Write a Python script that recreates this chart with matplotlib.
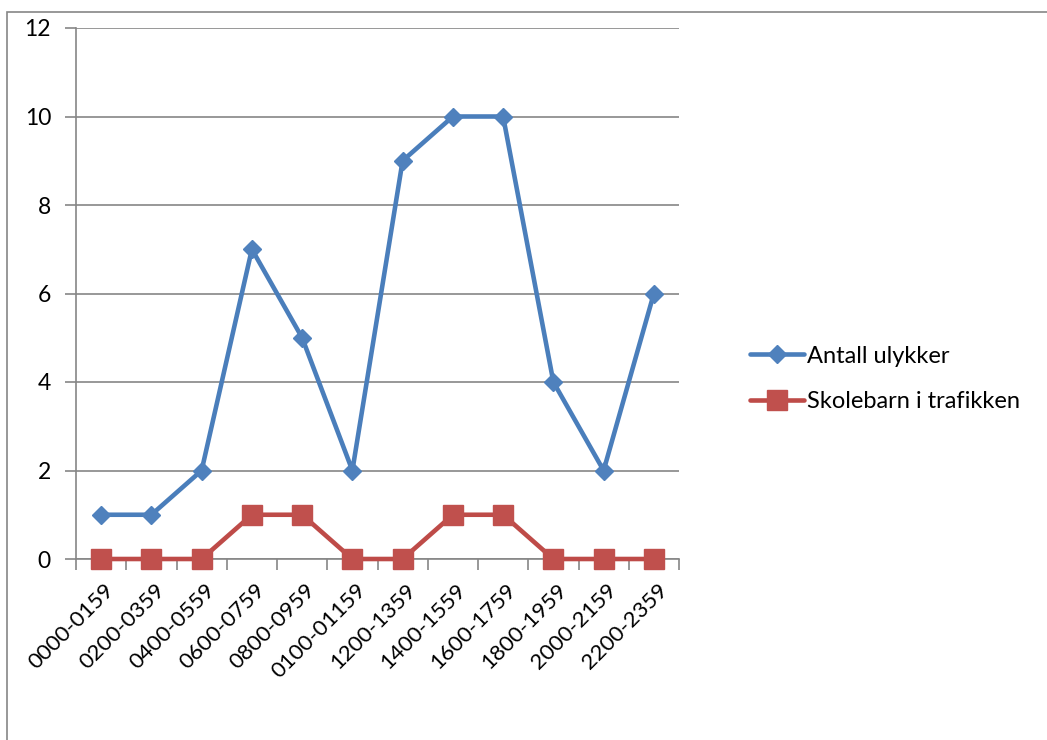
import matplotlib
matplotlib.use("Agg")
import matplotlib.pyplot as plt
from matplotlib.patches import Rectangle
import matplotlib.transforms as mtransforms

categories = ["0000-0159", "0200-0359", "0400-0559", "0600-0759", "0800-0959",
              "0100-01159", "1200-1359", "1400-1559", "1600-1759", "1800-1959",
              "2000-2159", "2200-2359"]
antall_ulykker = [1, 1, 2, 7, 5, 2, 9, 10, 10, 4, 2, 6]
skolebarn = [0, 0, 0, 1, 1, 0, 0, 1, 1, 0, 0, 0]
y_ticks = [0, 2, 4, 6, 8, 10, 12]

plt.rcParams['font.family'] = ['Lato', 'DejaVu Sans']

W, H = 1047, 740
fig = plt.figure(figsize=(W / 100, H / 100), dpi=100)
ax = fig.add_axes([76 / W, 1 - 559 / H, (679 - 76) / W, (559 - 28) / H])

# outer chart frame (top & left visible)
fig.patches.append(Rectangle((7 / W, -0.2), 1.2, 1.2 - 12 / H,
                             transform=fig.transFigure, fill=False,
                             edgecolor='#868686', linewidth=1.2))

x = list(range(len(categories)))
ax.plot(x, antall_ulykker, color='#4A7EBB', linewidth=3.3, marker='D',
        markersize=9.5, markerfacecolor='#4F81BD', markeredgecolor='#4F81BD',
        label='Antall ulykker', zorder=4, solid_joinstyle='round',
        solid_capstyle='round', clip_on=False)
ax.plot(x, skolebarn, color='#BE4B48', linewidth=3.3, marker='s',
        markersize=14, markerfacecolor='#C0504D', markeredgecolor='#C0504D',
        label='Skolebarn i trafikken', zorder=4, solid_joinstyle='round',
        solid_capstyle='round', clip_on=False)

ax.set_xlim(-0.5, len(categories) - 0.5)
ax.set_ylim(0, 12)
ax.set_yticks(y_ticks)
ax.set_yticklabels([str(v) for v in y_ticks])
ax.yaxis.grid(True, color='#868686', linewidth=1.2)
ax.set_axisbelow(True)

ax.set_xticks([i - 0.5 for i in range(len(categories) + 1)])
ax.set_xticklabels([])
ax.set_xticks(x, minor=True)
ax.set_xticklabels(categories, minor=True, rotation=45, ha='right', va='top',
                   rotation_mode='anchor', fontsize=16)
ax.tick_params(axis='x', which='minor', length=0, pad=15)
ax.tick_params(axis='x', which='major', length=8, width=1.2, color='#868686',
               direction='out')
ax.tick_params(axis='y', length=8, width=1.2, color='#868686', labelsize=16.5,
               pad=10)
offset = mtransforms.ScaledTranslation(3 / 100, 0, fig.dpi_scale_trans)
for lab in ax.get_xticklabels(minor=True):
    lab.set_transform(lab.get_transform() + offset)

for s in ['top', 'right']:
    ax.spines[s].set_visible(False)
for s in ['left', 'bottom']:
    ax.spines[s].set_color('#868686')
    ax.spines[s].set_linewidth(1.2)

leg = ax.legend(loc='center left', bbox_to_anchor=(750 / W, 1 - 379 / H),
                bbox_transform=fig.transFigure, frameon=False, fontsize=17,
                handlelength=2.3, handletextpad=0.1, labelspacing=1.05,
                borderaxespad=0, borderpad=0)

fig.savefig('out.png', dpi=100, facecolor='white')
